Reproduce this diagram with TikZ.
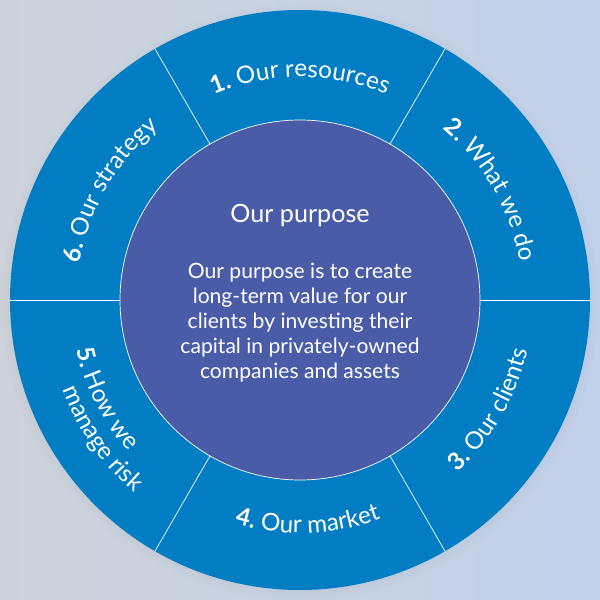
\documentclass[tikz,border=0pt]{standalone}
\usepackage{fontspec}
\setmainfont{Lato}
\usepackage{xcolor}
\usepackage{tikz}
\usetikzlibrary{decorations.text, shadows}
\definecolor{ringblue}{RGB}{0,125,195}
\definecolor{corepurple}{RGB}{74,92,168}
\definecolor{bgleft}{RGB}{205,210,218}
\definecolor{bgright}{RGB}{193,209,234}
\newcommand{\segfont}{\fontsize{13.8}{16}\selectfont}
\tikzset{
  ring/.style={circle, fill=ringblue, minimum size=11.6cm, inner sep=0pt,
    circular drop shadow={shadow scale=1.03, shadow xshift=0pt,
      shadow yshift=-1pt, opacity=0.3}},
  core/.style={circle, fill=corepurple, draw=white, line width=0.4pt,
    minimum size=7.2cm, inner sep=0pt},
  divider/.style={draw=white, line width=0.4pt},
  seglabel/.style={decorate, decoration={text along path, text align=center,
    text color=white, text={#1}}},
  whitetext/.style={text=white, align=center}
}

\begin{document}
\begin{tikzpicture}
  % Background
  \fill[left color=bgleft, right color=bgright] (-6,-6) rectangle (6,6);
  \useasboundingbox (-6,-6) rectangle (6,6);

  % Outer ring
  \node[ring] (ring) at (0,0) {};

  % Dividers
  \draw[divider] (0:3.6) -- (0:5.8);
  \draw[divider] (60:3.6) -- (60:5.8);
  \draw[divider] (120:3.6) -- (120:5.8);
  \draw[divider] (180:3.6) -- (180:5.8);
  \draw[divider] (240:3.6) -- (240:5.8);
  \draw[divider] (300:3.6) -- (300:5.8);

  % Purpose
  \node[core] (core) at (0,0) {};
  \node[whitetext, font=\fontsize{14.3}{17}\selectfont, anchor=base] (title) at (0,1.56) {Our purpose};
  \node[whitetext, font=\fontsize{12}{14.2}\selectfont] (purpose) at (0,-0.45) {Our purpose is to create\\long-term value for our\\clients by investing their\\capital in privately-owned\\companies and assets};

  % Segment labels, upper half
  \path[seglabel={|\segfont\bfseries|1.|\segfont| Our resources}] (135:4.46) arc[start angle=135, end angle=45, radius=4.46];
  \path[seglabel={|\segfont\bfseries|2.|\segfont| What we do}] (75:4.46) arc[start angle=75, end angle=-15, radius=4.46];
  \path[seglabel={|\segfont\bfseries|6.|\segfont| Our strategy}] (195:4.46) arc[start angle=195, end angle=105, radius=4.46];

  % Segment labels, lower half
  \path[seglabel={|\segfont\bfseries|3.|\segfont| Our clients}] (-75:4.66) arc[start angle=-75, end angle=15, radius=4.66];
  \path[seglabel={|\segfont\bfseries|4.|\segfont| Our market}] (-133:4.66) arc[start angle=-133, end angle=-43, radius=4.66];
  \path[seglabel={|\segfont\bfseries|5.|\segfont| How we}] (162:4.58) arc[start angle=162, end angle=252, radius=4.58];
  \path[seglabel={|\segfont|manage risk}] (170:5.08) arc[start angle=170, end angle=260, radius=5.08];
\end{tikzpicture}
\end{document}
